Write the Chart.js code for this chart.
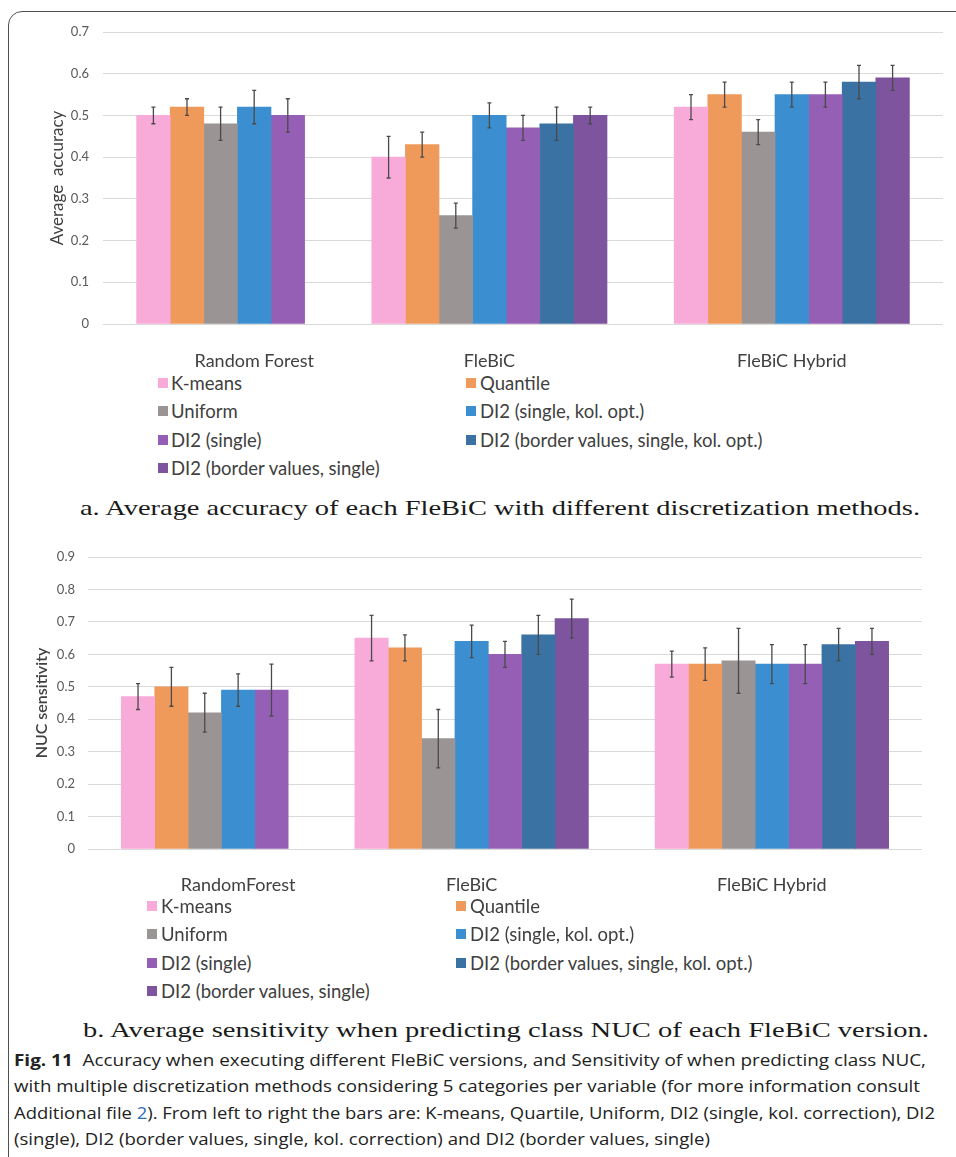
<!DOCTYPE html>
<html>
<head>
<meta charset="utf-8">
<script src="https://cdn.jsdelivr.net/npm/chart.js@4.4.0/dist/chart.umd.min.js"></script>
<style>
  html, body { margin: 0; padding: 0; background: #fff; }
  body { width: 956px; height: 1157px; position: relative; overflow: hidden; font-family: Lato, "Open Sans", sans-serif; }
  .frame { position: absolute; left: 8px; top: 11px; width: 1000px; height: 1200px; border: 1.5px solid #505050; border-radius: 14px; box-sizing: border-box; }
  canvas { position: absolute; left: 0; }
  .leg { position: absolute; font-size: 18.5px; color: #404040; white-space: nowrap; line-height: 20px; }
  .leg i { position: absolute; top: 5px; width: 10px; height: 10px; }
  .fit { position: absolute; white-space: nowrap; transform-origin: 0 50%; line-height: 1; }
  .sub { font-family: "Liberation Serif", "DejaVu Serif", serif; font-size: 22px; color: #1a1a1a; }
  .cap { font-family: "Open Sans", sans-serif; font-size: 16px; color: #222; }
  .cap b { font-weight: 700; }
  .cap a { color: #2b6cb5; text-decoration: none; }
</style>
</head>
<body>
<div class="frame"></div>
<canvas id="accChart" width="956" height="370" style="top:0"></canvas>
<canvas id="sensChart" width="956" height="370" style="top:530px"></canvas>
<div id="legendA"></div>
<div id="legendB"></div>

<div class="fit sub" data-w="840" style="left:80px;top:497px">a. Average accuracy of each FleBiC with different discretization methods.</div>
<div class="fit sub" data-w="846" style="left:83px;top:1019px">b. Average sensitivity when predicting class NUC of each FleBiC version.</div>
<div class="fit cap" data-w="912" style="left:14px;top:1052px"><b>Fig. 11</b>&nbsp; Accuracy when executing different FleBiC versions, and Sensitivity of when predicting class NUC,</div>
<div class="fit cap" data-w="906" style="left:14px;top:1078px">with multiple discretization methods considering 5 categories per variable (for more information consult</div>
<div class="fit cap" data-w="921" style="left:14px;top:1105px">Additional file <a>2</a>). From left to right the bars are: K-means, Quartile, Uniform, DI2 (single, kol. correction), DI2</div>
<div class="fit cap" data-w="696" style="left:14px;top:1131px">(single), DI2 (border values, single, kol. correction) and DI2 (border values, single)</div>

<script>
const groups = ["Random Forest", "FleBiC", "FleBiC Hybrid"];
const groupsB = ["RandomForest", "FleBiC", "FleBiC Hybrid"];
const methods = ["K-means", "Quantile", "Uniform", "DI2 (single, kol. opt.)", "DI2 (single)",
  "DI2 (border values, single, kol. opt.)", "DI2 (border values, single)"];
const colors = ["#F8AAD9", "#EF9A5B", "#9B9495", "#3B8FD1", "#965FB6", "#3A73A3", "#7D549D"];

// a. average accuracy, one array per classifier (methods in order), plus +/- error
const accRF = [0.50, 0.52, 0.48, 0.52, 0.50, null, null];
const accRFErr = [0.02, 0.02, 0.04, 0.04, 0.04, null, null];
const accFleBiC = [0.40, 0.43, 0.26, 0.50, 0.47, 0.48, 0.50];
const accFleBiCErr = [0.05, 0.03, 0.03, 0.03, 0.03, 0.04, 0.02];
const accHybrid = [0.52, 0.55, 0.46, 0.55, 0.55, 0.58, 0.59];
const accHybridErr = [0.03, 0.03, 0.03, 0.03, 0.03, 0.04, 0.03];

// b. NUC sensitivity
const sensRF = [0.47, 0.50, 0.42, 0.49, 0.49, null, null];
const sensRFErr = [0.04, 0.06, 0.06, 0.05, 0.08, null, null];
const sensFleBiC = [0.65, 0.62, 0.34, 0.64, 0.60, 0.66, 0.71];
const sensFleBiCErr = [0.07, 0.04, 0.09, 0.05, 0.04, 0.06, 0.06];
const sensHybrid = [0.57, 0.57, 0.58, 0.57, 0.57, 0.63, 0.64];
const sensHybridErr = [0.04, 0.05, 0.10, 0.06, 0.06, 0.05, 0.04];

const accTicks = [0, 0.1, 0.2, 0.3, 0.4, 0.5, 0.6, 0.7];
const sensTicks = [0, 0.1, 0.2, 0.3, 0.4, 0.5, 0.6, 0.7, 0.8, 0.9];

// one category slot per bar, with empty slots between classifiers
function buildSlots(names, values, errors) {
  const labels = [""], ticks = [""];
  const data = methods.map(() => [null]);
  const errs = methods.map(() => [null]);
  function pushSlot(m, v, e) {
    labels.push("s" + labels.length);
    ticks.push("");
    methods.forEach((_, k) => {
      data[k].push(k === m ? v : null);
      errs[k].push(k === m ? e : null);
    });
  }
  values.forEach((vals, g) => {
    if (g > 0) { pushSlot(-1); pushSlot(-1); }
    const start = labels.length;
    vals.forEach((v, m) => { if (v != null) pushSlot(m, v, errors[g][m]); });
    ticks[start + 3] = names[g];
  });
  pushSlot(-1);
  return { labels, ticks, data, errs };
}

const errorBars = {
  id: "errorBars",
  afterDatasetsDraw(chart) {
    const ctx = chart.ctx, y = chart.scales.y;
    ctx.save();
    ctx.strokeStyle = "#4a4a4a";
    ctx.lineWidth = 1.3;
    chart.data.datasets.forEach((ds, i) => {
      chart.getDatasetMeta(i).data.forEach((bar, j) => {
        const v = ds.data[j], e = ds.errors[j];
        if (v == null || e == null) return;
        const top = y.getPixelForValue(v + e), bot = y.getPixelForValue(v - e);
        ctx.beginPath();
        ctx.moveTo(bar.x, top); ctx.lineTo(bar.x, bot);
        ctx.moveTo(bar.x - 2, top); ctx.lineTo(bar.x + 2, top);
        ctx.moveTo(bar.x - 2, bot); ctx.lineTo(bar.x + 2, bot);
        ctx.stroke();
      });
    });
    ctx.restore();
  }
};

function makeChart(id, names, values, errors, tickVals, o) {
  const s = buildSlots(names, values, errors);
  return new Chart(document.getElementById(id), {
    type: "bar",
    data: {
      labels: s.labels,
      datasets: methods.map((m, i) => ({
        label: m,
        data: s.data[i],
        errors: s.errs[i],
        backgroundColor: colors[i],
        borderWidth: 0,
        grouped: false,
        barPercentage: 1,
        categoryPercentage: 1
      }))
    },
    options: {
      responsive: false,
      animation: false,
      layout: { padding: o.padding },
      plugins: { legend: { display: false }, tooltip: { enabled: false } },
      scales: {
        x: {
          grid: { display: false },
          border: { display: false },
          ticks: {
            autoSkip: false, maxRotation: 0, minRotation: 0,
            padding: o.xPad, color: "#404040",
            font: { family: "Lato", size: 18 },
            callback: (v, i) => s.ticks[i]
          },
          afterFit: sc => { sc.height = o.xHeight; }
        },
        y: {
          min: 0,
          max: tickVals[tickVals.length - 1],
          afterBuildTicks: sc => { sc.ticks = tickVals.map(v => ({ value: v })); },
          ticks: {
            padding: o.yPad, color: "#595959",
            font: { family: "Lato", size: 13 },
            callback: v => String(v)
          },
          grid: { color: "#d9d9d9", drawTicks: false },
          border: { display: false },
          title: {
            display: true, text: o.title, color: "#404040",
            font: { family: "Lato", size: o.titleSize, weight: o.titleWeight },
            padding: { top: o.titlePad, bottom: 0 }
          },
          afterFit: sc => { sc.width = o.yWidth; }
        }
      }
    },
    plugins: [errorBars]
  });
}

makeChart("accChart", groups, [accRF, accFleBiC, accHybrid], [accRFErr, accFleBiCErr, accHybridErr], accTicks, {
  padding: { top: 32, right: 13, left: 0, bottom: 0 },
  xHeight: 46, xPad: 18, yWidth: 103, yPad: 14,
  title: "Average  accuracy", titleSize: 17, titleWeight: "normal", titlePad: 47
});
makeChart("sensChart", groupsB, [sensRF, sensFleBiC, sensHybrid], [sensRFErr, sensFleBiCErr, sensHybridErr], sensTicks, {
  padding: { top: 27, right: 34, left: 0, bottom: 0 },
  xHeight: 51, xPad: 17, yWidth: 88, yPad: 13,
  title: "NUC sensitivity", titleSize: 16, titleWeight: "600", titlePad: 32
});

function buildLegend(el, top, cols) {
  methods.forEach((m, i) => {
    const d = document.createElement("div");
    d.className = "leg";
    const c = cols[i % 2];
    d.style.left = c.text + "px";
    d.style.top = (top + Math.floor(i / 2) * 28.4 - 10) + "px";
    const sq = document.createElement("i");
    sq.style.left = (c.sq - c.text) + "px";
    sq.style.background = colors[i];
    d.appendChild(sq);
    d.appendChild(document.createTextNode(m));
    el.appendChild(d);
  });
}
buildLegend(document.getElementById("legendA"), 383, [{ sq: 158, text: 171 }, { sq: 466, text: 480 }]);
buildLegend(document.getElementById("legendB"), 906, [{ sq: 147, text: 161 }, { sq: 456, text: 470 }]);

document.querySelectorAll(".fit").forEach(el => {
  const w = el.getBoundingClientRect().width;
  el.style.transform = "scaleX(" + (Number(el.dataset.w) / w) + ")";
});
</script>
</body>
</html>
